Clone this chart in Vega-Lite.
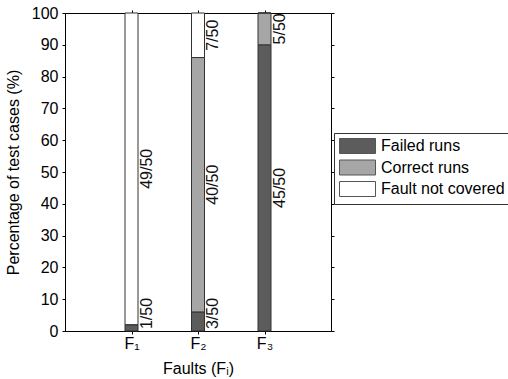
{
  "$schema": "https://vega.github.io/schema/vega-lite/v6.json",
  "width": 266,
  "height": 318,
  "autosize": "none",
  "padding": {"left": 65, "top": 13, "right": 177, "bottom": 48},
  "config": {
    "font": "Liberation Sans",
    "view": {"stroke": "black", "strokeWidth": 1},
    "axis": {
      "grid": false,
      "domainColor": "black",
      "tickColor": "black",
      "labelColor": "black",
      "titleColor": "black",
      "labelFontSize": 16,
      "titleFontSize": 16,
      "titleFontWeight": "normal",
      "tickSize": 3,
      "labelFont": "Liberation Sans",
      "titleFont": "Liberation Sans"
    },
    "legend": {
      "labelFont": "Liberation Sans",
      "labelFontSize": 16,
      "labelColor": "black"
    }
  },
  "data": {
    "values": [
      {"fault": "F₁", "category": "Failed runs", "pct": 2, "label": "1/50"},
      {"fault": "F₁", "category": "Correct runs", "pct": 0, "label": ""},
      {"fault": "F₁", "category": "Fault not covered", "pct": 98, "label": "49/50"},
      {"fault": "F₂", "category": "Failed runs", "pct": 6, "label": "3/50"},
      {"fault": "F₂", "category": "Correct runs", "pct": 80, "label": "40/50"},
      {"fault": "F₂", "category": "Fault not covered", "pct": 14, "label": "7/50"},
      {"fault": "F₃", "category": "Failed runs", "pct": 90, "label": "45/50"},
      {"fault": "F₃", "category": "Correct runs", "pct": 10, "label": "5/50"},
      {"fault": "F₃", "category": "Fault not covered", "pct": 0, "label": ""}
    ]
  },
  "transform": [
    {"window": [{"op": "row_number", "as": "idx"}], "groupby": ["fault"]},
    {"stack": "pct", "groupby": ["fault"], "sort": [{"field": "idx", "order": "ascending"}], "as": ["y0", "y1"]},
    {"calculate": "max((datum.y0 + datum.y1) / 2, 5.5)", "as": "mid"}
  ],
  "layer": [
    {
      "mark": {"type": "bar", "size": 13, "stroke": "#333333", "strokeWidth": 1},
      "encoding": {
        "x": {
          "field": "fault",
          "type": "ordinal",
          "sort": ["F₁", "F₂", "F₃"],
          "scale": {"type": "point", "padding": 1},
          "axis": {"title": "Faults  (Fᵢ)", "labelAngle": 0, "labelPadding": 1, "titlePadding": 9, "tickSize": 3}
        },
        "y": {
          "field": "y0",
          "type": "quantitative",
          "scale": {"domain": [0, 100], "nice": false},
          "axis": {"title": "Percentage of test cases (%)", "values": [0, 10, 20, 30, 40, 50, 60, 70, 80, 90, 100], "titlePadding": 10, "labelPadding": 4}
        },
        "y2": {"field": "y1"},
        "color": {
          "field": "category",
          "type": "nominal",
          "sort": ["Failed runs", "Correct runs", "Fault not covered"],
          "scale": {"domain": ["Failed runs", "Correct runs", "Fault not covered"], "range": ["#5c5c5c", "#a6a6a6", "#ffffff"]},
          "legend": {
            "title": null,
            "orient": "none",
            "legendX": 269,
            "legendY": 120,
            "strokeColor": "#333333",
            "fillColor": "white",
            "padding": 5,
            "symbolType": "M-1,-1H3.8V1H-1Z",
            "symbolSize": 225,
            "symbolStrokeColor": "#555555",
            "symbolStrokeWidth": 1,
            "symbolOpacity": 1,
            "labelOffset": 26,
            "rowPadding": 1.5
          }
        }
      }
    },
    {
      "transform": [{"filter": "datum.pct > 0"}],
      "mark": {"type": "text", "angle": 270, "align": "center", "baseline": "top", "dy": 7, "fontSize": 16, "color": "#111111"},
      "encoding": {
        "x": {
          "field": "fault",
          "type": "ordinal",
          "sort": ["F₁", "F₂", "F₃"],
          "axis": {"orient": "top", "labels": false, "title": null, "domain": false, "tickSize": 3}
        },
        "y": {
          "field": "mid",
          "type": "quantitative",
          "axis": {"orient": "right", "labels": false, "title": null, "domain": false, "values": [0, 10, 20, 30, 40, 50, 60, 70, 80, 90, 100], "tickSize": 3}
        },
        "text": {"field": "label"}
      }
    }
  ],
  "resolve": {"axis": {"x": "independent", "y": "independent"}}
}
